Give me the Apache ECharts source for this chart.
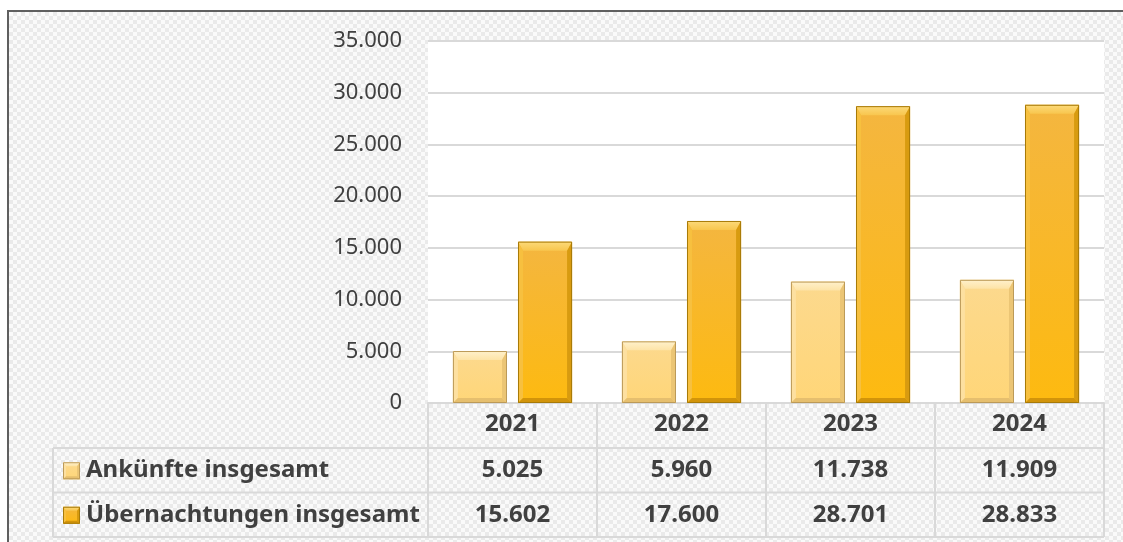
<!DOCTYPE html>
<html>
<head>
<meta charset="utf-8">
<script src="https://cdn.jsdelivr.net/npm/echarts@6/dist/echarts.min.js"></script>
<style>
html,body{margin:0;padding:0;background:#ffffff;width:1123px;height:542px;overflow:hidden;}
#frame{position:absolute;left:7px;top:10px;width:1116px;height:532px;box-sizing:border-box;
  border-left:2px solid #5f5f5f;border-top:2px solid #5f5f5f;
  background:repeating-conic-gradient(#eaeaea 0 25%, #fafafa 0 50%) 0 0/8px 8px;}
#chart{position:absolute;left:0;top:0;width:1123px;height:542px;}
</style>
</head>
<body>
<div id="frame"></div>
<div id="chart"></div>
<script>
// ---- data ----
const categories = ['2021', '2022', '2023', '2024'];
const arrivals = [5025, 5960, 11738, 11909];
const overnights = [15602, 17600, 28701, 28833];
const seriesNames = ['Ankünfte insgesamt', 'Übernachtungen insgesamt'];
const yMin = 0, yMax = 35000, yInterval = 5000;

// ---- styles ----
const FONT = '"Noto Sans", "Open Sans", sans-serif';
const TEXT = '#404040';
const LINE = '#d9d9d9';
const palettes = [
  { faceTop: '#FCD98E', faceBot: '#FFD678', topA: '#FFF1CC', topB: '#FDE3A6', left: '#FDE0A0', right: '#EBC575', bottom: '#E6BF6E', border: '#BC9A58' },
  { faceTop: '#F4B640', faceBot: '#FDBA10', topA: '#FCDA7A', topB: '#F8C64E', left: '#F7C03F', right: '#D89B10', bottom: '#D2940A', border: '#A77A08' }
];

const fmt = v => String(v).replace(/\B(?=(\d{3})+(?!\d))/g, '.');

function bevelShapes(x0, y0, w, h, pal, withShadow, tb, sb, bb) {
  const x1 = x0 + w, y1 = y0 + h;
  const t = Math.min(tb, h / 2), s = Math.min(sb, w / 2), b = Math.min(bb, h / 3);
  return [
    { type: 'rect', shape: { x: x0, y: y0, width: w, height: h },
      style: { fill: new echarts.graphic.LinearGradient(0, 0, 0, 1, [{ offset: 0, color: pal.faceTop }, { offset: 1, color: pal.faceBot }]),
        shadowBlur: withShadow ? 4 : 0, shadowOffsetX: withShadow ? 2 : 0, shadowOffsetY: withShadow ? 1 : 0, shadowColor: 'rgba(0,0,0,0.3)' } },
    { type: 'polygon', shape: { points: [[x0, y0], [x1, y0], [x1 - s, y0 + t], [x0 + s, y0 + t]] },
      style: { fill: new echarts.graphic.LinearGradient(0, 0, 0, 1, [{ offset: 0, color: pal.topA }, { offset: 1, color: pal.topB }]) } },
    { type: 'polygon', shape: { points: [[x0, y0], [x0 + s, y0 + t], [x0 + s, y1 - b], [x0, y1]] }, style: { fill: pal.left } },
    { type: 'polygon', shape: { points: [[x1, y0], [x1, y1], [x1 - s, y1 - b], [x1 - s, y0 + t]] }, style: { fill: pal.right } },
    { type: 'polygon', shape: { points: [[x0, y1], [x0 + s, y1 - b], [x1 - s, y1 - b], [x1, y1]] }, style: { fill: pal.bottom } },
    { type: 'rect', shape: { x: x0 + 0.5, y: y0 + 0.5, width: w - 1, height: h - 1 }, style: { fill: 'none', stroke: pal.border, lineWidth: 1 } }
  ];
}

function makeRender(seriesIdx) {
  const sign = seriesIdx === 0 ? -1 : 1;
  const pal = palettes[seriesIdx];
  return function (params, api) {
    const idx = api.value(0), val = api.value(1);
    const band = api.size([1, 0])[0];
    const bw = band * 0.32, gap = band * 0.065;
    const topPt = api.coord([idx, val]);
    const basePt = api.coord([idx, 0]);
    const cx = topPt[0] + sign * (bw + gap) / 2;
    return { type: 'group', children: bevelShapes(cx - bw / 2, topPt[1], bw, basePt[1] - topPt[1], pal, true, 9, 5, 5) };
  };
}

const chart = echarts.init(document.getElementById('chart'), null, { renderer: 'canvas' });
const GRID = { left: 428, right: 19, top: 41, bottom: 139 };

chart.setOption({
  backgroundColor: 'transparent',
  animation: false,
  grid: { left: GRID.left, right: GRID.right, top: GRID.top, bottom: GRID.bottom, show: true, backgroundColor: '#ffffff', borderWidth: 0 },
  xAxis: {
    type: 'category', data: categories,
    axisLine: { lineStyle: { color: LINE, width: 2 } },
    axisTick: { show: false },
    axisLabel: { fontFamily: FONT, fontSize: 24, fontWeight: 'bold', color: TEXT, margin: 9 }
  },
  yAxis: {
    type: 'value', min: yMin, max: yMax, interval: yInterval,
    axisLine: { show: false }, axisTick: { show: false },
    splitLine: { lineStyle: { color: LINE, width: 2 } },
    axisLabel: { fontFamily: FONT, fontSize: 22, color: TEXT, margin: 26, formatter: fmt }
  },
  series: [arrivals, overnights].map((vals, si) => ({
    type: 'custom', name: seriesNames[si],
    renderItem: makeRender(si),
    encode: { x: 0, y: 1 },
    data: vals.map((v, i) => [i, v])
  }))
});

// ---- data table below the axis (built from the arrays) ----
const plotBottom = 542 - GRID.bottom;
const plotRight = 1123 - GRID.right;
const tableLeft = 53;
const headerH = 45, rowH = 44.5;
const band = (plotRight - GRID.left) / categories.length;
const rowsY = [plotBottom, plotBottom + headerH, plotBottom + headerH + rowH, plotBottom + headerH + 2 * rowH];
const g = [];
for (let r = 1; r < rowsY.length; r++) {
  g.push({ type: 'line', shape: { x1: tableLeft, y1: rowsY[r], x2: plotRight, y2: rowsY[r] }, style: { stroke: LINE, lineWidth: 2 } });
}
g.push({ type: 'line', shape: { x1: tableLeft, y1: rowsY[1], x2: tableLeft, y2: rowsY[3] }, style: { stroke: LINE, lineWidth: 2 } });
for (let c = 0; c <= categories.length; c++) {
  const x = GRID.left + c * band;
  g.push({ type: 'line', shape: { x1: x, y1: rowsY[0], x2: x, y2: rowsY[3] }, style: { stroke: LINE, lineWidth: 2 } });
}
[arrivals, overnights].forEach((vals, si) => {
  const cy = (rowsY[si + 1] + rowsY[si + 2]) / 2;
  g.push({ type: 'group', children: bevelShapes(63, cy - 8, 17, 17, palettes[si], false, 4, 3, 3) });
  g.push({ type: 'text', x: 86, y: cy, style: { text: seriesNames[si], font: 'bold 24px ' + FONT, fill: TEXT, textAlign: 'left', textVerticalAlign: 'middle' } });
  vals.forEach((v, i) => {
    const cx = chart.convertToPixel({ xAxisIndex: 0 }, i);
    g.push({ type: 'text', x: cx, y: cy, style: { text: fmt(v), font: 'bold 24px ' + FONT, fill: TEXT, textAlign: 'center', textVerticalAlign: 'middle' } });
  });
});
chart.setOption({ graphic: g });
</script>
</body>
</html>
